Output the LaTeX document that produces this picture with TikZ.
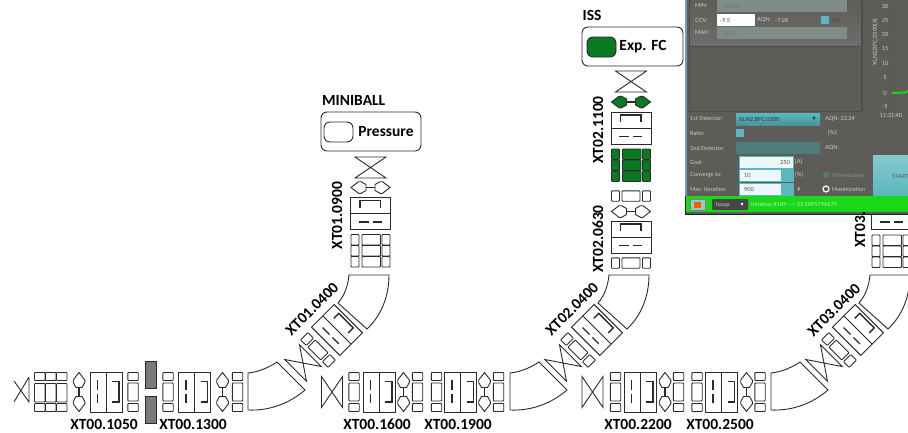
\documentclass[tikz,border=0pt]{standalone}
\usepackage{fontspec}
\setmainfont{Carlito}
\newfontfamily\panelfont{Lato}
\newfontfamily\symfont{DejaVu Sans}
\definecolor{ink}{HTML}{2A2A2A}
\definecolor{beamgreen}{HTML}{0A7A22}
\definecolor{panelbg}{HTML}{5D5C58}
\definecolor{panelfield}{HTML}{7F8C88}
\definecolor{tealbox}{HTML}{5CB8BE}
\definecolor{tealdim}{HTML}{4F7D7E}
\definecolor{barg}{HTML}{18D818}
\definecolor{paneltext}{HTML}{CFCFC6}
\definecolor{edgeblue}{HTML}{6F9CC8}
\tikzset{
  x=1pt,y=-1pt,
  elem/.style={draw=ink,line width=0.9pt,rounded corners=0.8pt},
  thin line/.style={draw=ink,line width=0.9pt},
  inner mark/.style={draw=ink,line width=1.3pt},
  lbl/.style={font=\fontsize{15.5}{16}\selectfont\bfseries,inner sep=0pt,text=black},
  ptxt/.style={font=\panelfont\fontsize{5.6}{6}\selectfont,inner sep=0pt,text=paneltext,anchor=west},
  triple/.pic={
    \path[elem,pic actions] (-16.5,-19.5) rectangle ++(10.5,8);
    \path[elem,pic actions] (-16.5,-8.5) rectangle ++(10.5,18.5);
    \path[elem,pic actions] (-16.5,11.5) rectangle ++(10.5,8);
    \path[elem,pic actions] (-5.5,-19.5) rectangle ++(10.5,8);
    \path[elem,pic actions] (-5.5,-8.5) rectangle ++(10.5,18.5);
    \path[elem,pic actions] (-5.5,11.5) rectangle ++(10.5,8);
    \path[elem,pic actions] (5.5,-19.5) rectangle ++(10.5,8);
    \path[elem,pic actions] (5.5,-8.5) rectangle ++(10.5,18.5);
    \path[elem,pic actions] (5.5,11.5) rectangle ++(10.5,8);
  },
  tripa/.pic={
    \path[elem,pic actions] (-5.2,-19.5) rectangle (5.2,-11.5);
    \path[elem,pic actions] (-5.2,-9) rectangle (5.2,9);
    \path[elem,pic actions] (-5.2,11.5) rectangle (5.2,19.5);
  },
  dipole/.pic={
    \path[thin line,fill=white] (-16,-20) rectangle (16,20);
    \path[thin line] (0,-20) -- (0,20);
    \path[inner mark] (-8.5,-12) -- (-8.5,-2) (-8.5,2) -- (-8.5,11);
    \path[inner mark] (6,-10.5) -- (13,-10.5) -- (13,10) -- (6,10);
  },
  steerer/.pic={
    \path[thin line,pic actions] (0,-19.5) -- (5.8,-12) -- (5.8,-9.5) -- (3,-4.5) -- (-3,-4.5) -- (-5.8,-9.5) -- (-5.8,-12) -- cycle;
    \path[thin line,pic actions] (0,19.5) -- (5.8,12) -- (5.8,9.5) -- (3,4.5) -- (-3,4.5) -- (-5.8,9.5) -- (-5.8,12) -- cycle;
    \path[inner mark] (0,-4.5) -- (0,4.5);
  },
  valve/.pic={
    \path[thin line] (-10.5,-15.5) -- (-10.5,15.5) -- (10.5,-15.5) -- (10.5,15.5) -- cycle;
  },
  hbend/.pic={
    \path[thin line] (0,-19) .. controls (10,-20) and (20,-24) .. (29,-30) -- (57,-2) .. controls (42,11) and (22,19) .. (0,18) -- cycle;
  },
  vbend/.pic={
    \path[thin line] (0,0) -- (40,0) .. controls (40,20) and (33,40) .. (18,54) -- (-11,28) .. controls (-4,20) and (-1,10) .. (0,0) -- cycle;
  },
}
\begin{document}
\begin{tikzpicture}
\useasboundingbox (0,0) rectangle (908,432);
\clip (0,0) rectangle (908,432);

% ---- bottom row 1
\path[thin line] (29,377) -- (29,402) -- (14,381) (29,377) -- (14,402);
\pic at (51,392) {triple};
\pic at (79,392) {steerer};
\pic at (106,392) {dipole};
\pic at (133,392) {tripa};
\path[draw=ink,line width=0.8pt,fill=black!52] (145,361) rectangle (156,388);
\path[draw=ink,line width=0.8pt,fill=black!52] (145,396) rectangle (156,423);
\pic at (168,392) {tripa};
\pic at (194.5,392) {dipole};
\pic at (222.5,392) {steerer};
\pic at (237.5,392) {tripa};
\pic at (248,392) {hbend};
% ---- bottom row 2
\pic at (332,392) {valve};
\pic at (354,392) {tripa};
\pic at (379,392) {dipole};
\pic at (403.5,392) {steerer};
\pic at (417.5,392) {tripa};
\pic at (436.5,392) {tripa};
\pic at (460.5,392) {dipole};
\pic at (484.5,392) {steerer};
\pic at (498.5,392) {tripa};
\pic at (510,392) {hbend};
% ---- bottom row 3
\pic at (592.5,392) {valve};
\pic at (615.5,392) {tripa};
\pic at (640,392) {dipole};
\pic at (665,392) {steerer};
\pic at (678.5,392) {tripa};
\pic at (697,392) {tripa};
\pic at (721.5,392) {dipole};
\pic at (746.5,392) {steerer};
\pic at (760,392) {tripa};
\pic at (771,392) {hbend};

% ---- diagonal groups
\foreach \dx in {0,260,521}{
  \pic[rotate=45] at (303+\dx,363) {valve};
  \pic[rotate=45] at (318+\dx,350) {tripa};
  \pic[rotate=45] at (337+\dx,330) {dipole};
  \pic at (349+\dx,275) {vbend};
}

% ---- XT01 column
\pic[rotate=90] at (370.5,167.5) {valve};
\pic[rotate=90] at (370.5,187.5) {steerer};
\pic[rotate=90] at (370.5,213.5) {dipole};
\pic[rotate=90] at (370.5,250.5) {triple};
% ---- XT02 column
\pic[rotate=90] at (631,81.5) {valve};
\pic[rotate=90,fill=beamgreen] at (631,102) {steerer};
\pic[rotate=90] at (631,128) {dipole};
\pic[rotate=90,fill=beamgreen] at (631,165) {triple};
\pic[rotate=90] at (631,196) {tripa};
\pic[rotate=90] at (631,211.5) {steerer};
\pic[rotate=90] at (631,237) {dipole};
\pic[rotate=90] at (631,263) {tripa};
% ---- XT03 column
\pic[rotate=90] at (891.5,213.5) {dipole};
\pic[rotate=90] at (891.5,251) {triple};

% ---- target boxes
\node[draw=ink,line width=0.9pt,rounded corners=6pt,minimum width=100pt,minimum height=39pt,inner sep=0pt] (mbbox) at (371,131.5) {};
\node[draw=ink,line width=0.9pt,rounded corners=6pt,minimum width=29pt,minimum height=20pt,inner sep=0pt] (mbdev) at (338.5,132) {};
\node[lbl] (mbtext) at (386,132) {Pressure};
\node[lbl,anchor=west] (mbname) at (322,100) {MINIBALL};
\node[draw=ink,line width=0.9pt,rounded corners=6pt,minimum width=101pt,minimum height=39pt,inner sep=0pt] (issbox) at (632.5,46.5) {};
\node[draw=ink,line width=0.9pt,fill=beamgreen,rounded corners=6pt,minimum width=29pt,minimum height=20pt,inner sep=0pt] (issdev) at (601.5,47) {};
\node[lbl] (isstext) at (643,47) {Exp. FC};
\node[lbl,anchor=west] (issname) at (582.5,15) {ISS};

% ---- labels
\node[lbl] (l1) at (104,424) {XT00.1050};
\node[lbl] (l2) at (193,424) {XT00.1300};
\node[lbl] (l3) at (377,424) {XT00.1600};
\node[lbl] (l4) at (458,424) {XT00.1900};
\node[lbl] (l5) at (638,424) {XT00.2200};
\node[lbl] (l6) at (720,424) {XT00.2500};
\node[lbl,rotate=90] (l7) at (337,215.5) {XT01.0900};
\node[lbl,rotate=45] (l8) at (312,309) {XT01.0400};
\node[lbl,rotate=90] (l9) at (598,130) {XT02.1100};
\node[lbl,rotate=90] (l10) at (598,239) {XT02.0630};
\node[lbl,rotate=45] (l11) at (572,309) {XT02.0400};
\node[lbl,rotate=45] (l12) at (834,310) {XT03.0400};

% ---- screenshot panel
\path[fill=panelbg,draw=black!70!teal,line width=0.8pt] (685,-2) rectangle (910,214);
\path[fill=edgeblue,draw=none] (685,-2) rectangle (687,196);
\path[draw=black!70,line width=0.5pt,top color=panelbg,bottom color=black!50!panelbg!70!white] (689,-2) rectangle (861,46);
\path[draw=black!70,line width=0.5pt,fill=panelbg] (689,46) rectangle (861,111);
\path[draw=black!70,line width=0.5pt] (862,-2) -- (862,111);
\path[fill=panelfield] (717,-2) rectangle (847,12);
\path[fill=white] (717,14) rectangle (755,26);
\path[fill=panelfield] (717,27) rectangle (847,39);
\path[fill=tealbox] (821,16) rectangle (829,24);
\node[ptxt] (tmin) at (695,6) {MIN:};
\node[ptxt,text=black!55] (vmin) at (722,6) {-500.0};
\node[ptxt] (tccv) at (695,20) {CCV:};
\node[ptxt,text=black!70] (vccv) at (720,20) {-9.5};
\node[ptxt] (taqn) at (757,20) {AQN:};
\node[ptxt] (vaqn) at (775,20) {-7.28};
\node[ptxt,text=black!70] (tsw) at (832,20) {Sta};
\node[ptxt] (tmax) at (695,33) {MAX:};
\node[ptxt,text=black!55] (vmax) at (722,33) {500.0};
% plot
\foreach \t/\yy in {30/6,25/20,20/34,15/49,10/63,5/78,0/93,-5/107}{
  \node[ptxt,anchor=center] at (885,\yy) {\t};
}
\node[ptxt,anchor=center,rotate=90] (yax) at (875,42) {XLN2.BFC.0300(A)};
\path[draw=black!65,line width=0.5pt] (893,-2) -- (893,111);
\path[draw=barg,line width=2pt] (892,93) -- (905,92.5) -- (910,90);
\node[ptxt,anchor=center] (ttime) at (891,115) {11:31:40};
% controls
\node[ptxt] (t1st) at (690,119) {1st Detector:};
\path[top color=tealbox,bottom color=tealbox!80!black] (736,113) rectangle (820,125);
\node[ptxt,text=black!80] (v1st) at (739,119) {XLN2.BFC.0300};
\node[ptxt,anchor=center,text=black!85,font=\symfont\fontsize{6}{6}\selectfont] (a1) at (814,119) {▾};
\node[ptxt] (t1aq) at (825,119) {AQN: 33.24};
\node[ptxt] (trat) at (690,133) {Ratio:};
\path[fill=tealbox] (736,129) rectangle (744,137);
\node[ptxt] (tpct) at (828,133) {[\%]:};
\node[ptxt] (t2nd) at (690,148) {2nd Detector:};
\path[fill=tealdim] (736,142) rectangle (820,154);
\node[ptxt,anchor=center,text=black!60,font=\symfont\fontsize{6}{6}\selectfont] (a2) at (814,148) {▾};
\node[ptxt] (t2aq) at (825,148) {AQN:};
\node[ptxt] (tgoal) at (690,162) {Goal:};
\path[fill=white!90!tealbox,draw=tealbox,line width=0.5pt] (739,156) rectangle (793,168);
\node[ptxt,anchor=east,text=black!70] (vgoal) at (790,162) {250};
\node[ptxt] (ta) at (795,162) {[A]};
\node[ptxt] (tconv) at (690,175) {Converge to:};
\path[fill=white!90!tealbox,draw=tealbox,line width=0.5pt] (739,169.5) rectangle (793,181.5);
\path[fill=tealbox] (781,170) rectangle (793,181);
\node[ptxt,text=black!70] (vconv) at (744,175.5) {10};
\node[ptxt] (tpct2) at (795,175) {[\%]};
\node[circle,fill=tealdim,draw=none,minimum size=6pt,inner sep=0pt] (r1) at (826,175) {};
\node[ptxt,text=black!45] (tminz) at (832,175) {Minimization};
\node[ptxt] (titer) at (690,189) {Max. Iteration:};
\path[fill=white!90!tealbox,draw=tealbox,line width=0.5pt] (739,183) rectangle (793,195);
\path[fill=tealbox] (781,183.5) rectangle (793,194.5);
\node[ptxt,text=black!70] (viter) at (744,189) {900};
\node[ptxt] (thash) at (797,189) {\#};
\node[circle,fill=panelbg,draw=white,line width=1.2pt,minimum size=6pt,inner sep=0pt] (r2) at (826,189) {};
\node[ptxt] (tmaxz) at (832,189) {Maximization};
\path[top color=tealbox!75!white,bottom color=tealbox] (873,155) rectangle (910,195);
\node[ptxt,text=black!65,anchor=west] (tstart) at (892,176) {START};
% status bar
\path[fill=barg] (686,196) rectangle (910,212);
\path[fill=tealbox!70!white,draw=black!50,line width=0.3pt] (690,199) rectangle (705,210);
\path[fill=orange!70!red] (694,201.5) rectangle (701,208);
\path[fill=black!72,rounded corners=1pt] (712,199) rectangle (748,210);
\node[ptxt] (tloop) at (716,204.5) {Isoop};
\node[ptxt,anchor=center,text=white,font=\symfont\fontsize{6}{6}\selectfont] (a3) at (742,204.5) {▾};
\node[ptxt,text=white!70!barg] (tstat) at (751,204.5) {Iteration \#189 --> 33.5095796875};

% ---- XT03 label, cut off by the panel
\node[lbl,rotate=90,anchor=west] (l13) at (860,248) {XT03.};
\end{tikzpicture}
\end{document}
